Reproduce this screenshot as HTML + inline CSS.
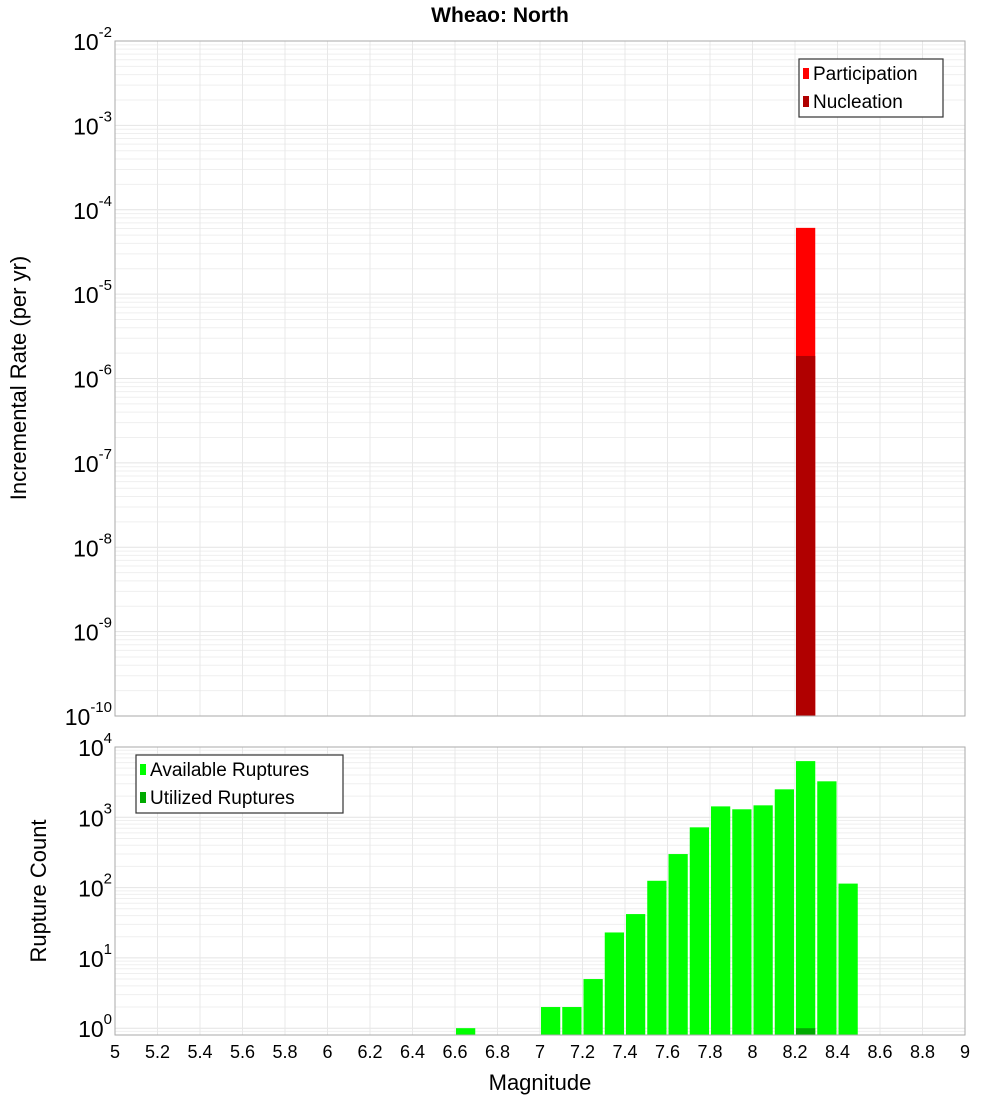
<!DOCTYPE html>
<html><head><meta charset="utf-8"><style>
html,body{margin:0;padding:0;background:#fff;}
svg{display:block;font-family:"Liberation Sans","DejaVu Sans",sans-serif;}
</style></head><body>
<svg id="chart" width="1000" height="1100" xmlns="http://www.w3.org/2000/svg">
<text x="500" y="22" text-anchor="middle" font-size="21" font-weight="bold">Wheao: North</text>
<text transform="translate(26,378) rotate(-90)" text-anchor="middle" font-size="22">Incremental Rate (per yr)</text>
<text transform="translate(46,891) rotate(-90)" text-anchor="middle" font-size="22">Rupture Count</text>
<text x="540" y="1090" text-anchor="middle" font-size="22">Magnitude</text>
<g id="top"></g><g id="bot"></g>
</svg>
<script>
const magBins = [6.65, 7.05, 7.15, 7.25, 7.35, 7.45, 7.55, 7.65, 7.75, 7.85, 7.95, 8.05, 8.15, 8.25, 8.35, 8.45];
const availableCounts = [1, 2, 2, 5, 23, 42, 125, 300, 720, 1430, 1300, 1480, 2500, 6300, 3250, 114];
const utilizedBins = [8.25];
const utilizedCounts = [1];
const rateBins = [8.25];
const participationRates = [6.1e-5];
const nucleationRates = [1.85e-6];
const xTicks = [5,5.2,5.4,5.6,5.8,6,6.2,6.4,6.6,6.8,7,7.2,7.4,7.6,7.8,8,8.2,8.4,8.6,8.8,9];

const NS="http://www.w3.org/2000/svg";
function mk(parent,tag,attrs,text){const e=document.createElementNS(NS,tag);for(const k in attrs)e.setAttribute(k,attrs[k]);if(text!==undefined)e.textContent=text;parent.appendChild(e);return e;}
const X0=115,X1=965;
const xs=m=>X0+(m-5)/4*(X1-X0);

function panel(g,top,bot,lmin,lmax,name){
  const ys=v=>bot-(Math.log10(v)-lmin)/(lmax-lmin)*(bot-top);
  // minor grid
  for(let d=Math.floor(lmin);d<lmax;d++){for(let k=1;k<10;k++){const v=k*Math.pow(10,d);const lv=Math.log10(v);if(lv<lmin||lv>lmax)continue;
    const l=mk(g,'line',{x1:X0,x2:X1,y1:ys(v),y2:ys(v),stroke:k==1?'#e4e4e4':'#efefef','stroke-width':1});
    
    }}
  xTicks.forEach(t=>{const l=mk(g,'line',{x1:xs(t),x2:xs(t),y1:top,y2:bot,stroke:'#e8e8e8','stroke-width':1});
    
    });
  // y tick labels
  for(let d=Math.ceil(lmin);d<=lmax;d++){const y=ys(Math.pow(10,d));
    const t=mk(g,'text',{x:112,y:y+9,'text-anchor':'end','font-size':23});
    
    
    mk(t,'tspan',{},'10');mk(t,'tspan',{dy:-13,'font-size':15},String(d));}
  return ys;
}
const gt=document.getElementById('top'),gb=document.getElementById('bot');
const yT=panel(gt,41,716,-10,-2,'top');
const yB=panel(gb,747,1035,Math.log10(0.8),Math.log10(0.8)+4.097,'bottom');

function bar(g,m,v,ys,bot,fill,name){const x=xs(m-0.05)+1,w=xs(m+0.05)-xs(m-0.05)-2;const y=ys(v);
  const r=mk(g,'rect',{x:x,y:y,width:w,height:bot-y,fill:fill});
  
  }
rateBins.forEach((m,i)=>bar(gt,m,participationRates[i],yT,716,'#ff0000','participation-bar'));
rateBins.forEach((m,i)=>bar(gt,m,nucleationRates[i],yT,716,'#b00000','nucleation-bar'));
magBins.forEach((m,i)=>bar(gb,m,availableCounts[i],yB,1035,'#00ff00','available-bar'));
utilizedBins.forEach((m,i)=>bar(gb,m,utilizedCounts[i],yB,1035,'#00aa00','utilized-bar'));

// frames
[[41,716,'top-plot-frame'],[747,1035,'bottom-plot-frame']].forEach(([a,b,n])=>{const r=mk(document.getElementById('chart'),'rect',{x:X0,y:a,width:X1-X0,height:b-a,fill:'none',stroke:'#aaa','stroke-width':1});
  
  });
// x tick labels
xTicks.forEach(t=>{const e=mk(gb,'text',{x:xs(t),y:1058,'text-anchor':'middle','font-size':18},String(Math.round(t*10)/10));
  
  });
// legends
function legend(x,y,w,items,name){const g=mk(document.getElementById('chart'),'g',{});
  
  
  mk(g,'rect',{x:x,y:y,width:w,height:58,fill:'#fff',stroke:'#333','stroke-width':1.2});
  items.forEach((it,i)=>{mk(g,'rect',{x:x+4,y:y+9+i*28,width:6,height:11,fill:it[1]});
    const t=mk(g,'text',{x:x+14,y:y+21+i*28,'font-size':19},it[0]);
    
    });}
legend(799,59,144,[['Participation','#ff0000'],['Nucleation','#b00000']],'top-legend');
legend(136,755,207,[['Available Ruptures','#00ff00'],['Utilized Ruptures','#00aa00']],'bottom-legend');
</script>
</body></html>
